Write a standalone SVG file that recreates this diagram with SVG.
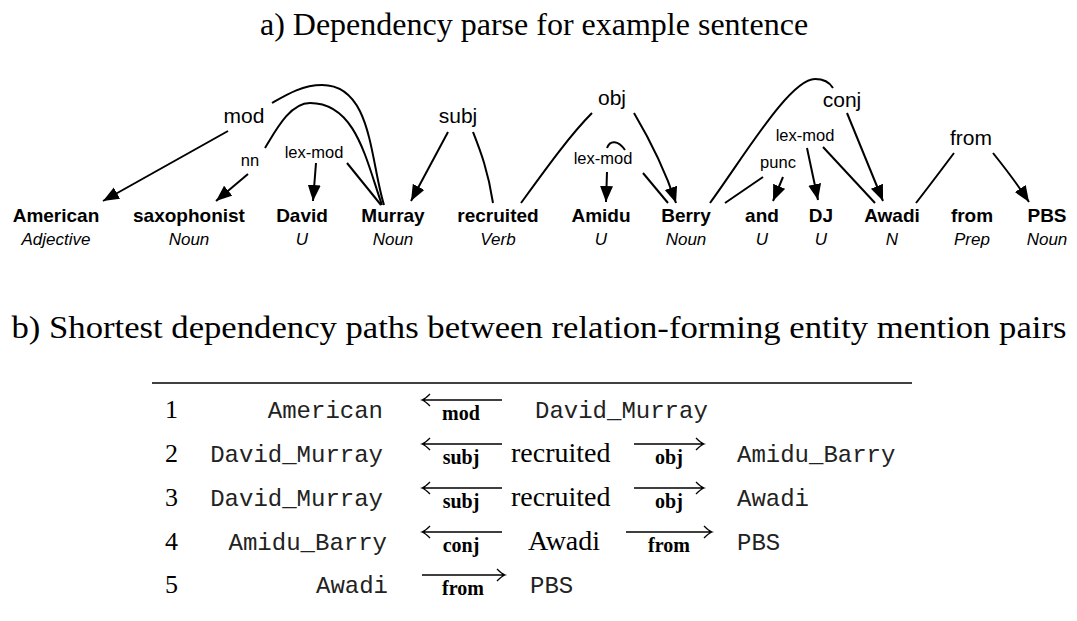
<svg xmlns="http://www.w3.org/2000/svg" width="1077" height="621" viewBox="0 0 1077 621">
<style>
.title{font-family:"Liberation Serif",serif;font-size:32px;fill:#000;text-anchor:middle}
.w{font-family:"Liberation Sans",Arial,sans-serif;font-size:19px;font-weight:bold;text-anchor:middle}
.p{font-family:"Liberation Sans",Arial,sans-serif;font-size:17px;font-style:italic;text-anchor:middle}
.lb{font-family:"Liberation Sans",Arial,sans-serif;font-size:21px;text-anchor:middle}
.ls{font-family:"Liberation Sans",Arial,sans-serif;font-size:16.5px;text-anchor:middle}
.arc{fill:none;stroke:#000;stroke-width:2}
.num{font-family:"Liberation Serif",serif;font-size:26px}
.tt{font-family:"Liberation Mono","DejaVu Sans Mono",monospace;font-size:24px;fill:#222}
.sr{font-family:"Liberation Serif",serif;font-size:28px}
.bl{font-family:"Liberation Serif",serif;font-size:20px;font-weight:bold;text-anchor:middle}
.ar{fill:none;stroke:#000;stroke-width:1.3}
</style>
<defs>
<marker id="ah" markerUnits="userSpaceOnUse" markerWidth="17" markerHeight="14" refX="16" refY="6.5" orient="auto">
<path d="M0,0 L16,6.5 L0,13 z" fill="#000"/>
</marker>
</defs>
<text class="title" x="534" y="35">a) Dependency parse for example sentence</text>
<g id="words">
<g id="n-american"><text class="w" x="56" y="222">American</text><text class="p" x="56" y="245">Adjective</text></g>
<g id="n-saxophonist"><text class="w" x="189" y="222">saxophonist</text><text class="p" x="189" y="245">Noun</text></g>
<g id="n-david"><text class="w" x="302" y="222">David</text><text class="p" x="302" y="245">U</text></g>
<g id="n-murray"><text class="w" x="393" y="222">Murray</text><text class="p" x="393" y="245">Noun</text></g>
<g id="n-recruited"><text class="w" x="498" y="222">recruited</text><text class="p" x="498" y="245">Verb</text></g>
<g id="n-amidu"><text class="w" x="601" y="222">Amidu</text><text class="p" x="601" y="245">U</text></g>
<g id="n-berry"><text class="w" x="686" y="222">Berry</text><text class="p" x="686" y="245">Noun</text></g>
<g id="n-and"><text class="w" x="762" y="222">and</text><text class="p" x="762" y="245">U</text></g>
<g id="n-dj"><text class="w" x="821" y="222">DJ</text><text class="p" x="821" y="245">U</text></g>
<g id="n-awadi"><text class="w" x="892" y="222">Awadi</text><text class="p" x="892" y="245">N</text></g>
<g id="n-from"><text class="w" x="972" y="222">from</text><text class="p" x="972" y="245">Prep</text></g>
<g id="n-pbs"><text class="w" x="1047" y="222">PBS</text><text class="p" x="1047" y="245">Noun</text></g>
</g>
<g id="connectors">
<path class="arc" d="M384,205 C370,160 372,85 322,85 C302,85 286,95 272,103"/>
<path class="arc" d="M228,131 L103,201" marker-end="url(#ah)"/>
<path class="arc" d="M382,205 C366,160 356,103 310,103 C290,103 276,130 265,148"/>
<path class="arc" d="M248,174 L216,201" marker-end="url(#ah)"/>
<path class="arc" d="M381,205 L347,163"/>
<path class="arc" d="M316,163 L313,201" marker-end="url(#ah)"/>
<path class="arc" d="M493,203 C488,170 480,150 473,132"/>
<path class="arc" d="M448,132 L411,201" marker-end="url(#ah)"/>
<path class="arc" d="M521,203 C545,170 570,135 592,113"/>
<path class="arc" d="M634,113 C650,140 665,170 676,203" marker-end="url(#ah)"/>
<path class="arc" d="M668,203 L643,173"/>
<path class="arc" d="M607,148 C610,140 618,140 625,150"/>
<path class="arc" d="M607,172 L606,202" marker-end="url(#ah)"/>
<path class="arc" d="M710,203 C745,155 790,79 815,79 C825,79 830,83 833,88"/>
<path class="arc" d="M847,113 L883,201" marker-end="url(#ah)"/>
<path class="arc" d="M725,203 L763,177"/>
<path class="arc" d="M783,177 L773,201" marker-end="url(#ah)"/>
<path class="arc" d="M875,203 L823,147"/>
<path class="arc" d="M807,148 L818,200" marker-end="url(#ah)"/>
<path class="arc" d="M916,203 C930,185 945,165 954,153"/>
<path class="arc" d="M993,153 C1005,168 1018,185 1029,202" marker-end="url(#ah)"/>
</g>
<g id="labels">
<text class="lb" x="244" y="123">mod</text>
<text class="ls" x="250" y="166">nn</text>
<text class="ls" x="314" y="158">lex-mod</text>
<text class="lb" x="458" y="123">subj</text>
<text class="lb" x="612" y="105">obj</text>
<text class="ls" x="603" y="164">lex-mod</text>
<text class="lb" x="842" y="107">conj</text>
<text class="ls" x="805" y="141">lex-mod</text>
<text class="ls" x="778" y="168">punc</text>
<text class="lb" x="971" y="145">from</text>
</g>
<text class="title" x="539" y="338" textLength="1055" lengthAdjust="spacingAndGlyphs">b) Shortest dependency paths between relation-forming entity mention pairs</text>
<line x1="152" y1="383" x2="912" y2="383" stroke="#000" stroke-width="1.5"/>
<g id="table">
<g id="row1">
<text class="num" x="165" y="418">1</text>
<text class="tt" x="383" y="418" text-anchor="end">American</text>
<path class="ar" d="M422,400 H502 M430,394 Q425,399 422,400 Q425,401 430,406"/>
<text class="bl" x="461" y="420">mod</text>
<text class="tt" x="535" y="418">David_Murray</text>
</g>
<g id="row2">
<text class="num" x="165" y="462">2</text>
<text class="tt" x="383" y="462" text-anchor="end">David_Murray</text>
<path class="ar" d="M422,444 H502 M430,438 Q425,443 422,444 Q425,445 430,450"/>
<text class="bl" x="461" y="464">subj</text>
<text class="sr" x="511" y="462">recruited</text>
<path class="ar" d="M634,444 H704 M696,438 Q701,443 704,444 Q701,445 696,450"/>
<text class="bl" x="669" y="464">obj</text>
<text class="tt" x="737" y="462">Amidu_Barry</text>
</g>
<g id="row3">
<text class="num" x="165" y="506">3</text>
<text class="tt" x="383" y="506" text-anchor="end">David_Murray</text>
<path class="ar" d="M422,488 H502 M430,482 Q425,487 422,488 Q425,489 430,494"/>
<text class="bl" x="461" y="508">subj</text>
<text class="sr" x="511" y="506">recruited</text>
<path class="ar" d="M634,488 H704 M696,482 Q701,487 704,488 Q701,489 696,494"/>
<text class="bl" x="669" y="508">obj</text>
<text class="tt" x="737" y="506">Awadi</text>
</g>
<g id="row4">
<text class="num" x="165" y="550">4</text>
<text class="tt" x="387" y="550" text-anchor="end">Amidu_Barry</text>
<path class="ar" d="M422,532 H502 M430,526 Q425,531 422,532 Q425,533 430,538"/>
<text class="bl" x="461" y="552">conj</text>
<text class="sr" x="528" y="550">Awadi</text>
<path class="ar" d="M626,532 H712 M704,526 Q709,531 712,532 Q709,533 704,538"/>
<text class="bl" x="669" y="552">from</text>
<text class="tt" x="737" y="550">PBS</text>
</g>
<g id="row5">
<text class="num" x="165" y="593">5</text>
<text class="tt" x="388" y="593" text-anchor="end">Awadi</text>
<path class="ar" d="M422,575 H505 M497,569 Q502,574 505,575 Q502,576 497,581"/>
<text class="bl" x="463" y="595">from</text>
<text class="tt" x="530" y="593">PBS</text>
</g>
</g>
</svg>
